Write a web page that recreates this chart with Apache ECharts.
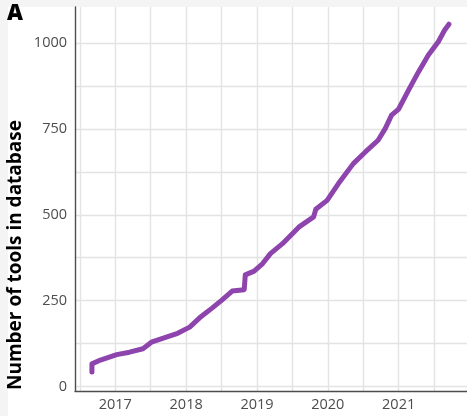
<!DOCTYPE html>
<html>
<head>
<meta charset="utf-8">
<script src="https://cdn.jsdelivr.net/npm/echarts@6/dist/echarts.min.js"></script>
<style>
  html, body { margin: 0; padding: 0; background: #f4f4f4; }
  #card { position: absolute; left: 8px; top: 7px; width: 459px; height: 409px; background: #ffffff; }
  #chart { position: absolute; left: 0; top: 0; width: 467px; height: 416px; }
</style>
</head>
<body>
<div id="card"></div>
<div id="chart"></div>
<script>
// Data (decimal year, cumulative number of tools)
const years = [2016.67, 2016.67, 2016.79, 2017.02, 2017.2, 2017.39, 2017.51, 2017.72, 2017.88, 2018.05,
  2018.19, 2018.37, 2018.5, 2018.65, 2018.82, 2018.835, 2018.96, 2019.08, 2019.19, 2019.36,
  2019.59, 2019.80, 2019.83, 2019.99, 2020.15, 2020.36, 2020.53, 2020.71, 2020.81, 2020.90,
  2021.0, 2021.14, 2021.28, 2021.42, 2021.56, 2021.65, 2021.71];
const counts = [42, 66, 77, 93, 100, 110, 129, 144, 155, 173,
  200, 229, 251, 278, 282, 325, 336, 358, 387, 416,
  464, 494, 516, 542, 591, 649, 683, 717, 751, 790,
  808, 863, 916, 965, 1004, 1038, 1055];

// Tick labels and grid positions
const xLabelTicks = [2017, 2018, 2019, 2020, 2021];
const xGridTicks = [2016.5, 2017, 2017.5, 2018, 2018.5, 2019, 2019.5, 2020, 2020.5, 2021, 2021.5];
const yLabelTicks = [0, 250, 500, 750, 1000];
const yGridTicks = [0, 125, 250, 375, 500, 625, 750, 875, 1000];

const yTitle = 'Number of tools in database';
const panelTag = 'A';

const chart = echarts.init(document.getElementById('chart'), null, { renderer: 'canvas' });
const gridLine = { show: true, lineStyle: { color: '#e3e3e3', width: 1.4 } };
chart.setOption({
  animation: false,
  backgroundColor: 'transparent',
  grid: { left: 75, top: 7, right: -2, bottom: 25, containLabel: false },
  xAxis: {
    type: 'value',
    min: 2016.431,
    max: 2021.965,
    axisLine: { show: true, onZero: false, lineStyle: { color: '#4d4d4d', width: 1.4 } },
    axisTick: { show: false, customValues: xGridTicks },
    axisLabel: {
      customValues: xLabelTicks,
      color: '#4d4d4d', fontSize: 14.5, fontFamily: 'Open Sans', margin: 6,
      formatter: v => String(Math.round(v))
    },
    splitLine: gridLine
  },
  yAxis: {
    type: 'value',
    min: -13,
    max: 1105,
    axisLine: { show: true, onZero: false, lineStyle: { color: '#4d4d4d', width: 1.4 } },
    axisTick: { show: false, customValues: yGridTicks },
    axisLabel: {
      customValues: yLabelTicks,
      color: '#4d4d4d', fontSize: 14.5, fontFamily: 'Open Sans', margin: 8,
      formatter: v => String(Math.round(v))
    },
    splitLine: gridLine
  },
  graphic: [
    {
      type: 'text', x: 15.5, y: 255, rotation: Math.PI / 2,
      style: { text: yTitle, fill: '#000', font: 'bold 19px "Open Sans"', align: 'center', verticalAlign: 'middle' }
    },
    {
      type: 'text', x: 7, y: 3,
      style: { text: panelTag, fill: '#000', font: '800 22px "Open Sans"', align: 'left', verticalAlign: 'top' }
    }
  ],
  series: [{
    type: 'line',
    data: years.map((y, i) => [y, counts[i]]),
    showSymbol: false,
    smooth: false,
    clip: false,
    lineStyle: { color: '#8e44ad', width: 5, cap: 'round', join: 'round' },
    itemStyle: { color: '#8e44ad' }
  }]
});
</script>
</body>
</html>
